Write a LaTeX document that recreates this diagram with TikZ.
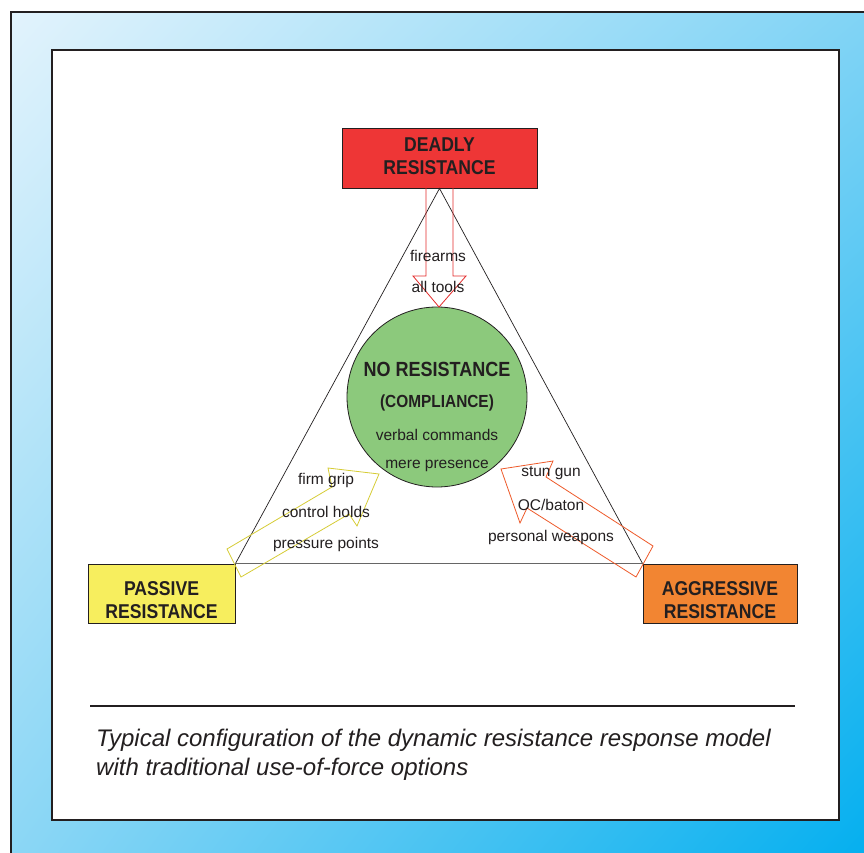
\documentclass[tikz,border=0pt]{standalone}
\usepackage{fontspec}
\usetikzlibrary{shadings}
\setmainfont{Liberation Sans}
\newfontfamily\narrowfont{Liberation Sans}[FakeStretch=0.88]
\definecolor{txt}{HTML}{231F20}
\definecolor{deadred}{HTML}{EE3636}
\definecolor{passyel}{HTML}{F7EE5E}
\definecolor{aggor}{HTML}{F28532}
\definecolor{circgreen}{HTML}{8CC97C}
\definecolor{redline}{HTML}{E32B2B}
\definecolor{yelline}{HTML}{D6CC35}
\definecolor{orline}{HTML}{EE5A2A}
\definecolor{bgA}{HTML}{E2F3FC}
\definecolor{bgB}{HTML}{7FD3F5}
\definecolor{bgC}{HTML}{8AD6F5}
\definecolor{bgD}{HTML}{00AEEF}
\tikzset{
  resbox/.style={draw=txt, line width=0.9pt, inner sep=0pt},
  boxtxt/.style={text=txt, align=center, inner sep=0pt,
    font=\narrowfont\bfseries\fontsize{20}{24}\selectfont},
  lbl/.style={text=txt, inner sep=0pt, font=\fontsize{15.5}{18}\selectfont},
  frame/.style={draw=txt, line width=2.4pt},
  captxt/.style={anchor=base west, inner sep=0pt, text=txt, font=\itshape\fontsize{24}{28}\selectfont},
}
\begin{document}
\begin{tikzpicture}[x=1pt,y=-1pt]
\useasboundingbox (0,0) rectangle (864,853);
\clip (0,0) rectangle (864,853);
\fill[white] (0,0) rectangle (864,853);
\shade[upper left=bgA, upper right=bgB, lower left=bgC, lower right=bgD] (11,12) rectangle (880,870);
\draw[frame] (11,12) rectangle (880,870);
\fill[white] (52,50) rectangle (839,820);
\draw[draw=txt, line width=2pt] (52,50) rectangle (839,820);

% boxes
\node[resbox, fill=deadred, minimum width=195pt, minimum height=60pt] (deadly) at (439.5,158) {};
\node[resbox, fill=passyel, minimum width=147pt, minimum height=59pt] (passive) at (161.5,593.5) {};
\node[resbox, fill=aggor, minimum width=154pt, minimum height=59pt] (aggressive) at (720,593.5) {};
\node[boxtxt] (deadlytxt) at ([yshift=1.5pt]deadly.center) {DEADLY\\[-1pt]RESISTANCE};
\node[boxtxt] (passivetxt) at ([yshift=-6.5pt]passive.center) {PASSIVE\\[-1pt]RESISTANCE};
\node[boxtxt] (aggressivetxt) at ([yshift=-6.5pt]aggressive.center) {AGGRESSIVE\\[-1pt]RESISTANCE};

% triangle
\draw[txt, line width=0.7pt] (passive.north east) -- (deadly.south) -- (aggressive.north west);
\draw[black!60, line width=0.9pt] (passive.north east) -- (aggressive.north west);

% circle
\node[circle, draw=txt, line width=0.8pt, fill=circgreen, minimum size=180pt, inner sep=0pt] (center) at (437,397) {};

% block arrows
\draw[redline, line width=0.8pt] (426,188) -- (426,276) -- (413,276) -- (439,307) -- (466,276) -- (453,276) -- (453,188);
\draw[yelline, line width=0.8pt] (227,549) -- (332,487) -- (328,468) -- (379,474) -- (357,526) -- (349,514) -- (241,577) -- cycle;
\draw[orline, line width=0.8pt] (501,469) -- (553,461) -- (546,477) -- (653,546) -- (636,577) -- (527,508) -- (520,523) -- cycle;

% center texts
\node[text=txt, font=\narrowfont\bfseries\fontsize{20.5}{24}\selectfont] (nores) at (437,369) {NO RESISTANCE};
\node[text=txt, font=\narrowfont\bfseries\fontsize{17.5}{20}\selectfont] (compl) at (437,403) {(COMPLIANCE)};
\node[lbl] (verbal) at (437,435) {verbal commands};
\node[lbl] (mere) at (437,466) {mere presence};

% option labels
\node[lbl] (firearms) at (438,256) {firearms};
\node[lbl] (alltools) at (438,287) {all tools};
\node[lbl] (firm) at (326,480) {firm grip};
\node[lbl] (control) at (326,512) {control holds};
\node[lbl] (pressure) at (326,544) {pressure points};
\node[lbl] (stun) at (551,473) {stun gun};
\node[lbl] (oc) at (551,505) {OC/baton};
\node[lbl] (personal) at (551,537) {personal weapons};

% caption
\coordinate (rl) at (90,706);
\coordinate (rr) at (795,706);
\draw[txt, line width=1.8pt] (rl) -- (rr);
\node[captxt] (cap1) at (96,746) {Typical configuration of the dynamic resistance response model};
\node[captxt] (cap2) at (96,775) {with traditional use-of-force options};
\end{tikzpicture}
\end{document}
